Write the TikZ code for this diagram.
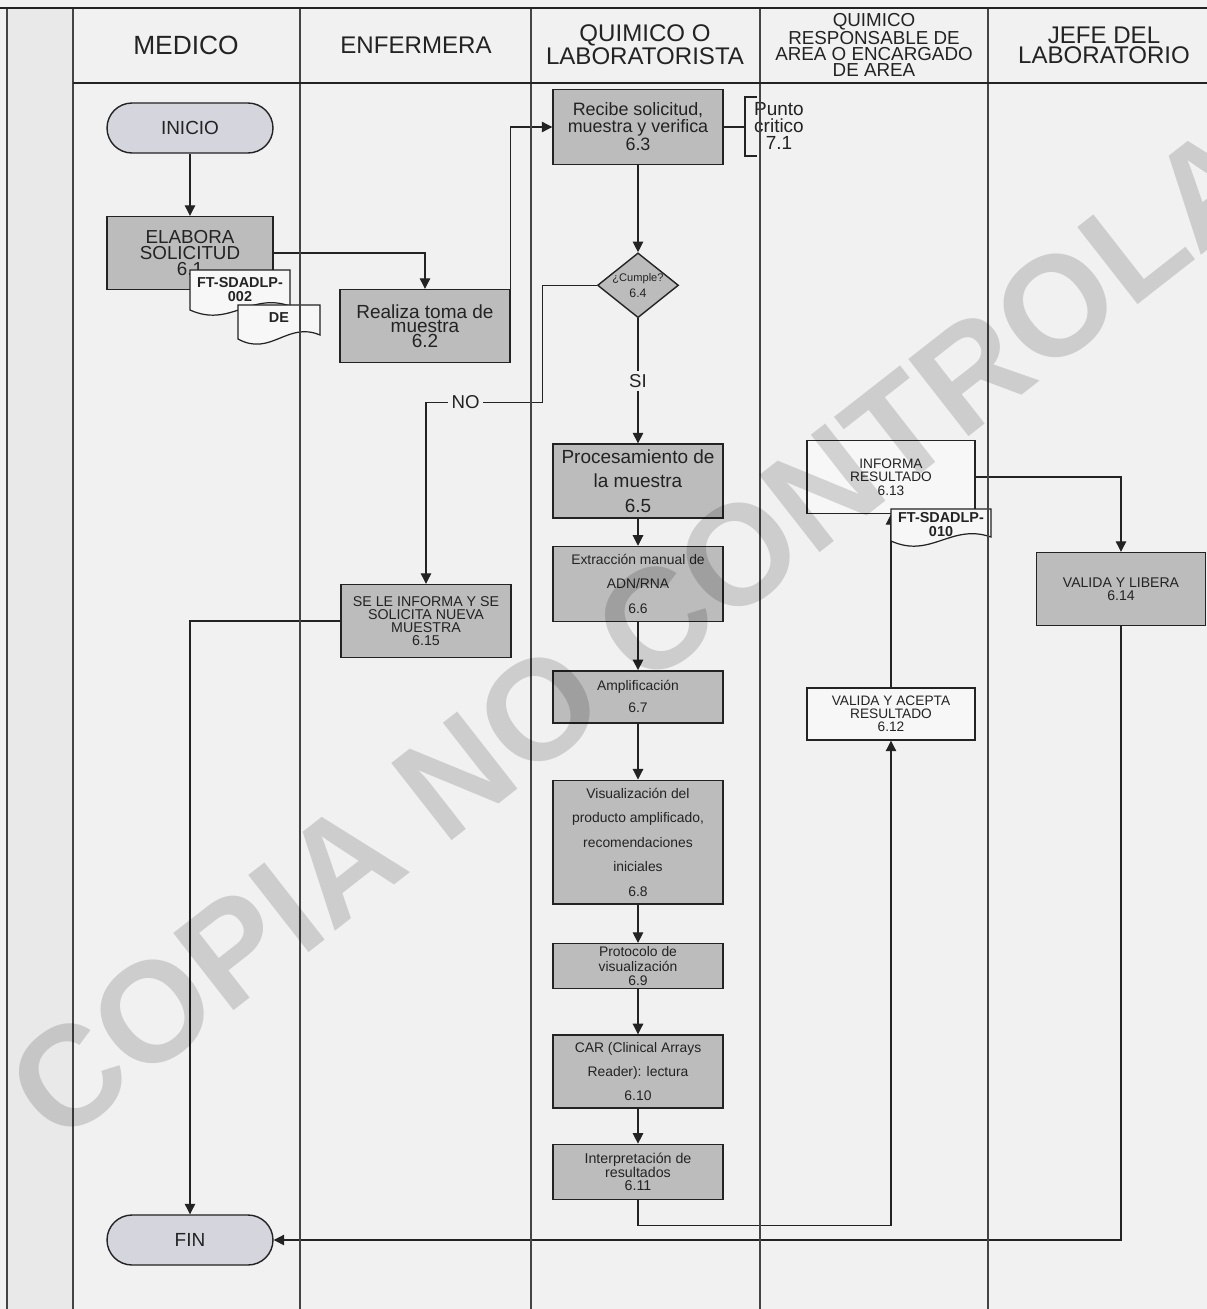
\documentclass[tikz,border=0pt]{standalone}
\usepackage{fontspec}
\setmainfont{Liberation Sans}
\usetikzlibrary{arrows.meta,positioning,shapes.geometric,calc}

\definecolor{paper}{RGB}{241,241,241}
\definecolor{stripgray}{RGB}{233,233,233}
\definecolor{boxgray}{RGB}{188,188,188}
\definecolor{termgray}{RGB}{212,213,221}
\definecolor{boxwhite}{RGB}{247,247,247}
\definecolor{ink}{RGB}{35,35,35}

\newcommand{\setsz}[2]{\fontsize{#1}{#2}\selectfont}
% document symbol: centre, half width, half height (px)
\newcommand{\wavydoc}[3]{%
  \draw[docline] ($(#1)+(-#2,#3)$) -- ($(#1)+(-#2,-#3)$) -- ($(#1)+(#2,-#3)$)
    -- ($(#1)+(#2,#3-4)$) .. controls ($(#1)+(0.2*#2,#3-18)$) and ($(#1)+(-0.2*#2,#3+18)$) .. ($(#1)+(-#2,#3)$) -- cycle;}

\begin{document}
\begin{tikzpicture}[x=0.02cm,y=-0.02cm,->,>={Triangle[length=6pt,width=6pt]},semithick,color=ink,
  proc/.style={draw=ink,line width=0.8pt,fill=boxgray,minimum width=3.4cm,align=center,inner sep=1pt},
  blank/.style={proc,fill=boxwhite},
  term/.style={draw=ink,line width=0.8pt,fill=termgray,rounded corners=0.5cm,minimum width=3.32cm,minimum height=1cm,font=\setsz{10.8}{12}},
  decision/.style={diamond,aspect=1.25,draw=ink,line width=0.8pt,fill=boxgray,minimum width=1.6cm,minimum height=1.28cm,inner sep=0pt,align=center},
  hdr/.style={align=center,font=\setsz{13.7}{11.4}},
  doctext/.style={align=center,font=\bfseries\setsz{8.2}{8}},
  docline/.style={-,draw=ink,line width=0.7pt,fill=boxwhite},
  lane/.style={-,draw=ink!85,line width=0.6pt},
  lbl/.style={fill=paper,inner sep=2pt,font=\setsz{10.6}{12}}]
 \useasboundingbox (0,0) rectangle (1207,1309);
 \fill[paper] (0,0) rectangle (1207,1309);
 \fill[stripgray] (7,8) rectangle (73,1309);

 % column headers
 \node[hdr,font=\setsz{15}{12}] (hmed) at (186,45) {MEDICO};
 \node[hdr] (henf) at (416,45) {ENFERMERA};
 \node[hdr] (hqui) at (645,45) {QUIMICO O\\LABORATORISTA};
 \node[hdr,font=\setsz{10.7}{9.1}] (hres) at (874,45) {QUIMICO\\RESPONSABLE DE\\AREA O ENCARGADO\\DE AREA};
 \node[hdr] (hjef) at (1104,45) {JEFE DEL\\LABORATORIO};

 \node[term] (ini) at (190,128) {INICIO};
 \node[proc,minimum width=3.32cm,minimum height=1.46cm,font=\setsz{10.7}{9.1}] (s61) at (190,253) {ELABORA\\SOLICITUD\\6.1};
 \node[proc,minimum height=1.46cm,font=\setsz{10.8}{8.3}] (s62) at (425,326) {Realiza toma de\\muestra\\6.2};
 \node[proc,minimum height=1.5cm,font=\setsz{10.2}{8.5}] (s63) at (638,127) {Recibe solicitud,\\muestra y verifica\\6.3};
 \node[decision,font=\setsz{6.3}{9},below=1.74cm of s63] (cumple) {¿Cumple?\\{\setsz{7}{9}6.4}};
 \node[proc,minimum height=1.48cm,font=\setsz{10.8}{13.9},below=2.5cm of cumple] (s65) {Procesamiento de\\la muestra\\6.5};
 \node[proc,minimum height=1.5cm,font=\setsz{7.9}{13.9},below=0.54cm of s65] (s66) {Extracción manual de\\ADN/RNA\\6.6};
 \node[proc,minimum height=1.04cm,font=\setsz{7.9}{12.5},below=0.96cm of s66] (s67) {Amplificación\\6.7};
 \node[proc,minimum height=2.48cm,font=\setsz{7.9}{14},below=1.12cm of s67] (s68) {Visualización del\\producto amplificado,\\recomendaciones\\iniciales\\6.8};
 \node[proc,minimum height=0.9cm,font=\setsz{7.9}{8.2},below=0.76cm of s68] (s69) {Protocolo de\\visualización\\6.9};
 \node[proc,minimum height=1.46cm,font=\setsz{7.9}{13.7},below=0.9cm of s69] (s610) {CAR (Clinical Arrays\\Reader): lectura\\6.10};
 \node[proc,minimum height=1.1cm,font=\setsz{8.1}{7.7},below=0.7cm of s610] (s611) {Interpretación de\\resultados\\6.11};
 \node[blank,minimum width=3.36cm,minimum height=1.46cm,font=\setsz{7.8}{7.6}] (s613) at (891,477) {INFORMA\\RESULTADO\\6.13};
 \node[blank,minimum width=3.36cm,minimum height=1.04cm,font=\setsz{7.8}{7.4}] (s612) at (891,714) {VALIDA Y ACEPTA\\RESULTADO\\6.12};
 \node[proc,minimum width=3.38cm,minimum height=1.46cm,font=\setsz{8}{7.4}] (s614) at (1121,589) {VALIDA Y LIBERA\\6.14};
 \node[proc,minimum height=1.46cm,font=\setsz{8.1}{7.4}] (s615) at (426,621) {SE LE INFORMA Y SE\\SOLICITA NUEVA\\MUESTRA\\6.15};
 \node[term] (fin) at (190,1240) {FIN};
 \node[align=center,font=\setsz{10.8}{9.7}] (pcrit) at (779,126) {Punto\\critico\\7.1};

 % critical point bracket
 \coordinate (pcb) at (745,127);
 \draw[-] (s63.east) -- (pcb);
 \draw[-] ($(pcb)+(12,-30)$) -- ($(pcb)+(0,-30)$) -- ($(pcb)+(0,29)$) -- ($(pcb)+(12,29)$);

 \path (ini) edge (s61)
       (s63) edge (cumple)
       (cumple) edge node[lbl] {SI} (s65)
       (s65) edge (s66)
       (s66) edge (s67)
       (s67) edge (s68)
       (s68) edge (s69)
       (s69) edge (s610)
       (s610) edge (s611)
       (s612) edge (s613);
 \draw (s61.east) -| (s62.north);
 \draw (s62.north east) |- (s63.west);
 \draw (cumple.west) -- ++(-54,0) -- ++(0,117) -| node[lbl,pos=0.33] {NO} (s615.north);
 \draw (s611.south) -- ++(0,25) -| (s612.south);
 \draw (s613.east) -| (s614.north);
 \draw (s614.south) |- (fin.east);
 \draw (s615.west) -| (fin.north);

 % documents
 \coordinate (c002) at (240,290);
 \coordinate (cde) at (279,322);
 \coordinate (c010) at (941,525);
 \wavydoc{c002}{50}{20}
 \node[doctext] (t002) at (c002) {FT-SDADLP-\\002};
 \wavydoc{cde}{41}{17}
 \node[doctext] (tde) at ($(cde)+(0,-4)$) {DE};
 \wavydoc{c010}{50}{16}
 \node[doctext] (t010) at (c010) {FT-SDADLP-\\010};

 % swimlanes
 \foreach \lx in {7,73,300,531,760,988}
   \draw[lane] (\lx,8) -- (\lx,1309);
 \draw[-,line width=1.3pt] (0,8) -- (1207,8);
 \draw[-,line width=1.1pt] (73,83) -- (1207,83);

 \begin{scope}
  \clip (0,0) rectangle (1207,1309);
  \node[rotate=38,text=black,text opacity=0.15,font=\bfseries\setsz{81}{81}] (wmark) at (720,569) {COPIA NO CONTROLADA};
 \end{scope}
\end{tikzpicture}
\end{document}
